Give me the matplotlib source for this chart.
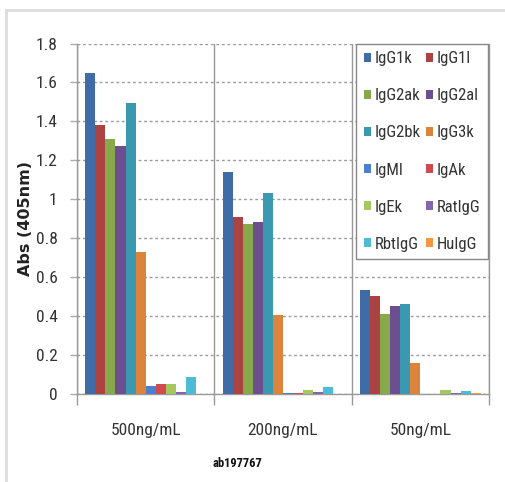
import matplotlib
matplotlib.use('Agg')
import matplotlib.pyplot as plt
import numpy as np
from matplotlib.lines import Line2D

# ---- data ----
categories = ['500ng/mL', '200ng/mL', '50ng/mL']
series_names = ['IgG1k', 'IgG1l', 'IgG2ak', 'IgG2al', 'IgG2bk', 'IgG3k',
                'IgMl', 'IgAk', 'IgEk', 'RatIgG', 'RbtIgG', 'HuIgG']
IgG1k = [1.65, 1.14, 0.535]
IgG1l = [1.38, 0.91, 0.505]
IgG2ak = [1.31, 0.875, 0.41]
IgG2al = [1.275, 0.885, 0.45]
IgG2bk = [1.495, 1.03, 0.46]
IgG3k = [0.73, 0.405, 0.157]
IgMl = [0.04, 0.005, 0.0]
IgAk = [0.05, 0.005, 0.0]
IgEk = [0.05, 0.022, 0.022]
RatIgG = [0.008, 0.008, 0.006]
RbtIgG = [0.087, 0.038, 0.017]
HuIgG = [0.0, 0.0, 0.006]
series_values = [IgG1k, IgG1l, IgG2ak, IgG2al, IgG2bk, IgG3k,
                 IgMl, IgAk, IgEk, RatIgG, RbtIgG, HuIgG]
colors = ['#3F6BA6', '#AA4341', '#87A84B', '#6C4F8F', '#3A98B0', '#DC843B',
          '#4A80CF', '#CF4B4E', '#A3C860', '#8466AE', '#4DBAD6', '#F5973F']
yticks = [0, 0.2, 0.4, 0.6, 0.8, 1, 1.2, 1.4, 1.6, 1.8]
ytick_labels = ['0', '0.2', '0.4', '0.6', '0.8', '1', '1.2', '1.4', '1.6', '1.8']

plt.rcParams['font.family'] = ['Roboto Condensed', 'Lato', 'DejaVu Sans']

W, H = 506, 482
fig = plt.figure(figsize=(W / 100, H / 100), dpi=100)
fig.patch.set_facecolor('white')

ax = fig.add_axes([77 / W, 1 - 394 / H, (489 - 77) / W, (394 - 43.5) / H])

n = len(series_names)
x = np.arange(len(categories))
group = 0.88
bw = group / n
handles = []
for i, (name, vals, col) in enumerate(zip(series_names, series_values, colors)):
    off = -group / 2 + bw * (i + 0.5)
    b = ax.bar(x + off, vals, width=bw, color=col, label=name, linewidth=0, zorder=3)
    handles.append(b)

ax.set_xlim(-0.5, len(categories) - 0.5)
ax.set_ylim(0, 1.8)
ax.set_yticks(yticks)
ax.set_yticklabels(ytick_labels, fontsize=12.5, color='#333333')
ax.set_xticks(x)
ax.set_xticklabels(categories, fontsize=12.5, color='#333333')
ax.set_xticks(np.arange(len(categories) + 1) - 0.5, minor=True)
ax.tick_params(axis='x', which='major', length=0, pad=21)
ax.tick_params(axis='x', which='minor', length=8, color='#999999', width=1)
ax.tick_params(axis='y', which='major', length=5, color='#aaaaaa', width=1, pad=9)

ax.yaxis.grid(True, color='#999999', linestyle=(0, (2, 2)), linewidth=1, zorder=0)
ax.xaxis.grid(True, which='minor', color='#999999', linestyle='-', linewidth=1, zorder=1)
ax.set_axisbelow(True)
for s in ['left', 'bottom', 'right']:
    ax.spines[s].set_color('#999999')
    ax.spines[s].set_linewidth(1)
ax.spines['top'].set_visible(False)

ax.set_ylabel('Abs (405nm)', family='DejaVu Sans', fontweight='bold', fontsize=11.5,
              color='#222222')
ax.yaxis.set_label_coords((33 - 77) / (489 - 77), (394 - 218.5) / (394 - 43.5))

# legend filled row-wise like the original (2 columns)
order = list(range(0, n, 2)) + list(range(1, n, 2))
leg = ax.legend([handles[k] for k in order], [series_names[k] for k in order],
                ncol=2, loc='upper right', bbox_to_anchor=(0.997, 1.0), borderaxespad=0,
                fontsize=12, frameon=True, fancybox=False, handlelength=0.45,
                handleheight=0.45, handletextpad=0.2, labelspacing=1.33,
                columnspacing=0.3, borderpad=0.45, framealpha=1)
leg.get_frame().set_edgecolor('#888888')
leg.get_frame().set_linewidth(1)
for t in leg.get_texts():
    t.set_color('#333333')
leg.set_zorder(5)

fig.text(237.5 / W, 1 - 463.5 / H, 'ab197767', ha='center', va='center',
         fontsize=9, fontweight='bold', color='#111111')

# light frame around the figure
fig.add_artist(Line2D([6 / W, 1], [1 - 10 / H, 1 - 10 / H], color='#dddddd', lw=2,
                      transform=fig.transFigure))
fig.add_artist(Line2D([6 / W, 6 / W], [0, 1 - 10 / H], color='#dddddd', lw=2,
                      transform=fig.transFigure))

fig.savefig('out.png', dpi=100)
